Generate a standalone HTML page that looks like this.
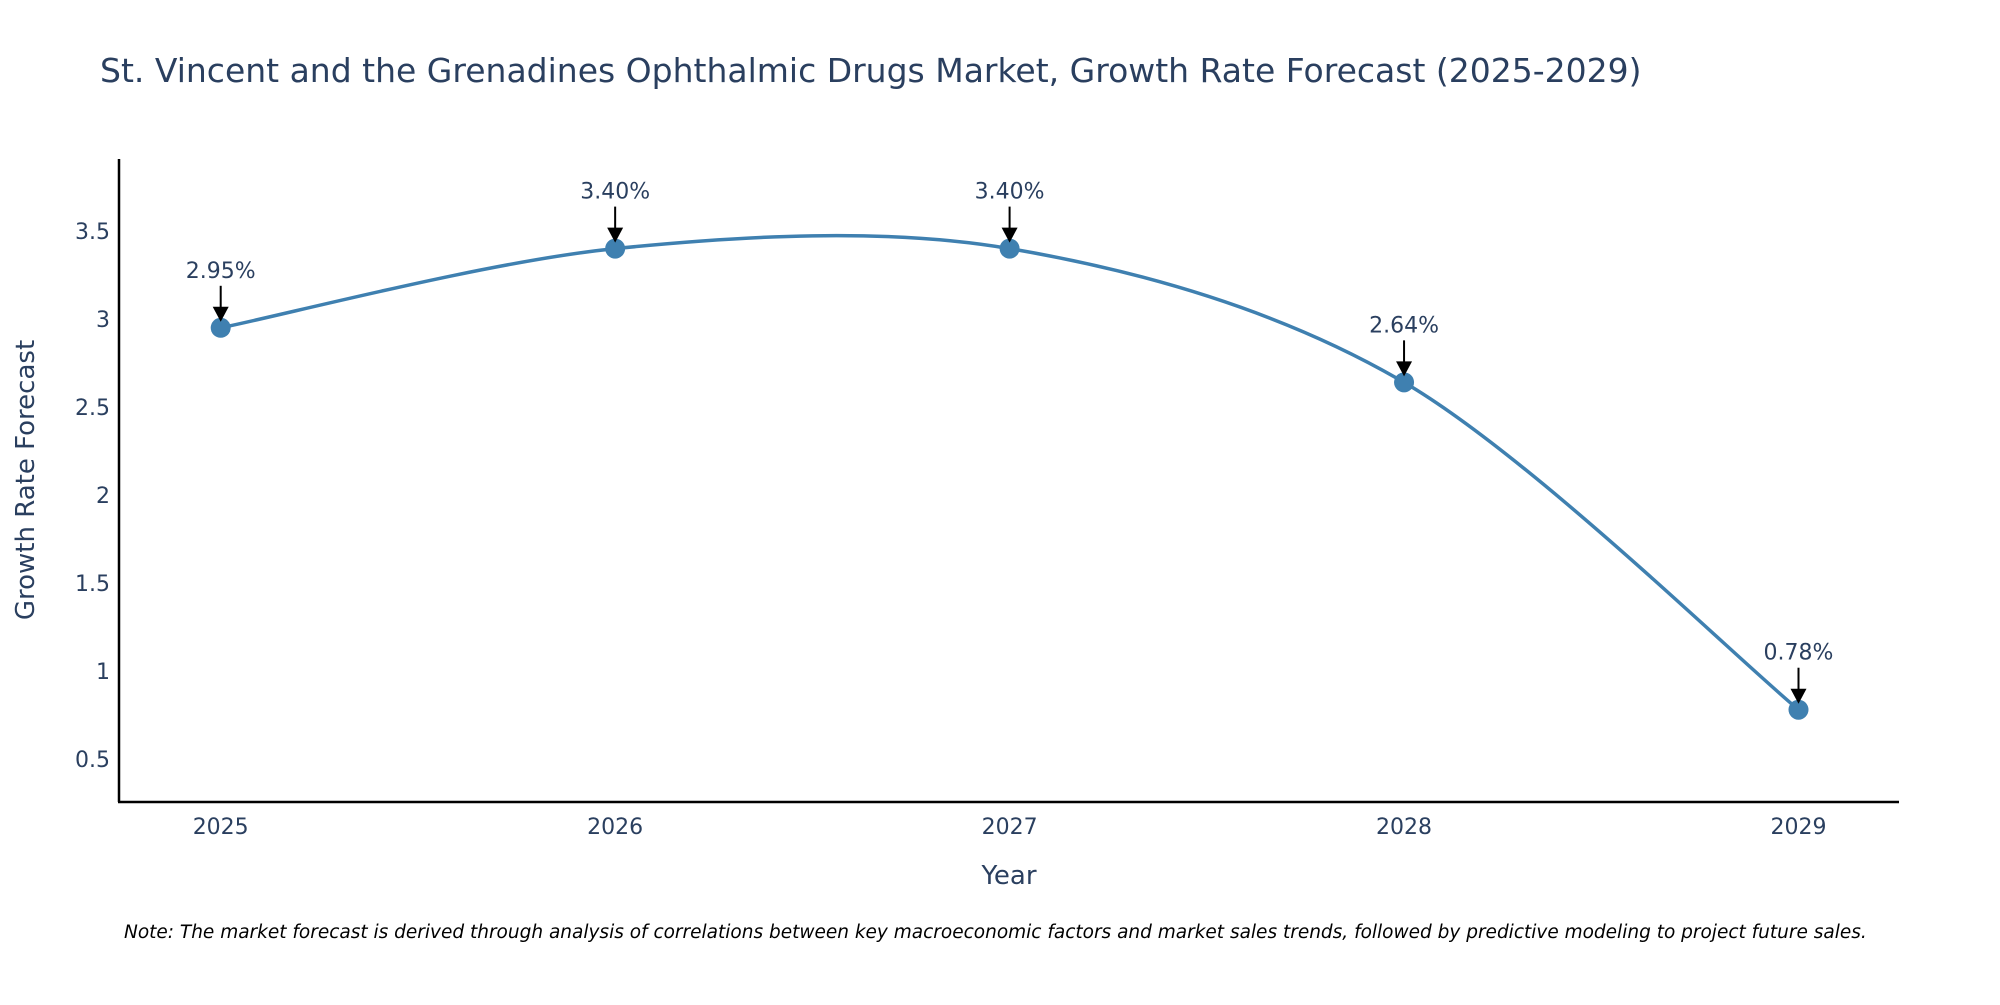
<!DOCTYPE html>
<html><head><meta charset="utf-8"><style>
body{margin:0;background:#fff;}
svg text{font-family:"DejaVu Sans","Liberation Sans",sans-serif;}
</style></head><body>
<svg id="chart" width="2000" height="1000" xmlns="http://www.w3.org/2000/svg">
<rect width="2000" height="1000" fill="#fff"/>
<text x="100" y="82" font-size="33" fill="#2a3f5f">St. Vincent and the Grenadines Ophthalmic Drugs Market, Growth Rate Forecast (2025-2029)</text>
<g id="grid"></g>
<g id="xt"></g>
<line x1="119" y1="159" x2="119" y2="802" stroke="#000" stroke-width="2.5"/>
<line x1="118" y1="802" x2="1899" y2="802" stroke="#000" stroke-width="2.5"/>
<path id="line" fill="none" stroke="#3f80b0" stroke-width="3.5"/>
<g id="marks"></g>
<text x="1009" y="884" font-size="26" fill="#2a3f5f" text-anchor="middle">Year</text>
<text transform="translate(34,480) rotate(-90)" font-size="26" fill="#2a3f5f" text-anchor="middle">Growth Rate Forecast</text>
<text x="124" y="938" font-size="18.5" font-style="italic" fill="#000">Note: The market forecast is derived through analysis of correlations between key macroeconomic factors and market sales trends, followed by predictive modeling to project future sales.</text>
</svg>
<script>
const years=[2025,2026,2027,2028,2029];
const values=[2.95,3.40,3.40,2.64,0.78];
const labels=["2.95%","3.40%","3.40%","2.64%","0.78%"];
const yTicks=[0.5,1,1.5,2,2.5,3,3.5];
const NS="http://www.w3.org/2000/svg";
const xs=y=>220.7+(y-2025)*394.45;
const ys=v=>759-(v-0.5)*176;
function mk(t,a,p){const e=document.createElementNS(NS,t);for(const k in a)e.setAttribute(k,a[k]);p.appendChild(e);return e;}
const gy=document.getElementById('grid');
yTicks.forEach(t=>{const e=mk('text',{x:110,y:ys(t)+8,'font-size':22,fill:'#2a3f5f','text-anchor':'end'},gy);


e.textContent=String(t);});
const gx=document.getElementById('xt');
years.forEach(y=>{const e=mk('text',{x:xs(y),y:834,'font-size':22,fill:'#2a3f5f','text-anchor':'middle'},gx);


e.textContent=String(y);});
const P=years.map((y,i)=>[xs(y),ys(values[i])]);
let d=`M${P[0][0]},${P[0][1]}`;
for(let i=0;i<P.length-1;i++){const p0=P[Math.max(0,i-1)],p1=P[i],p2=P[i+1],p3=P[Math.min(P.length-1,i+2)];
const t=0.16;
d+=` C${p1[0]+(p2[0]-p0[0])*t},${p1[1]+(p2[1]-p0[1])*t} ${p2[0]-(p3[0]-p1[0])*t},${p2[1]-(p3[1]-p1[1])*t} ${p2[0]},${p2[1]}`;}
document.getElementById('line').setAttribute('d',d);
const gm=document.getElementById('marks');
P.forEach((p,i)=>{const c=mk('circle',{cx:p[0],cy:p[1],r:10,fill:'#3f80b0'},gm);


const l=mk('line',{x1:p[0],y1:p[1]-42,x2:p[0],y2:p[1]-16,stroke:'#000','stroke-width':2},gm);


const a=mk('polygon',{points:`${p[0]-8},${p[1]-21} ${p[0]+8},${p[1]-21} ${p[0]},${p[1]-6}`,fill:'#000'},gm);


const t=mk('text',{x:p[0],y:p[1]-50,'font-size':22,fill:'#2a3f5f','text-anchor':'middle'},gm);


t.textContent=labels[i];});
</script>
</body></html>
